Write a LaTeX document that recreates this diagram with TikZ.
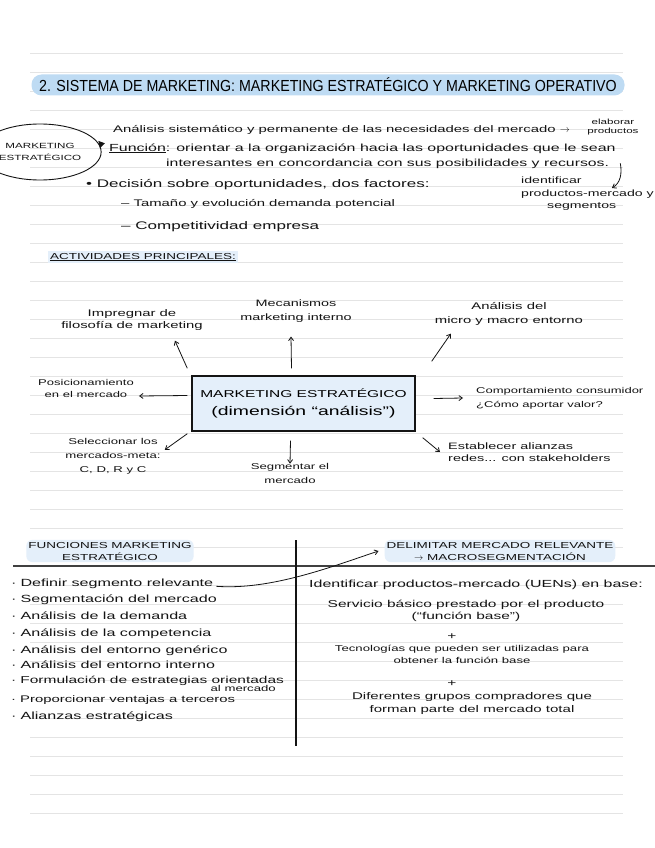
\documentclass[tikz,border=0pt]{standalone}
\usepackage{fontspec}
\setmainfont{Liberation Sans}
\newfontfamily\hand[FakeStretch=1.55]{Liberation Sans}
\newfontfamily\titlefont[FakeStretch=0.89]{Liberation Sans}
\usetikzlibrary{arrows.meta,positioning,calc,shapes.geometric}
\definecolor{hlblue}{RGB}{190,219,243}
\definecolor{hlsoft}{RGB}{228,239,250}
\definecolor{rulecolor}{RGB}{228,228,228}
\definecolor{ink}{RGB}{20,20,20}
\tikzset{
  hand/.style={font={\hand\fontsize{#1}{13}\selectfont}, text=ink, inner sep=1pt, align=center},
  hand/.default=10,
  caps/.style={font={\hand\fontsize{8.7}{12}\selectfont}, text=ink, inner sep=2pt, align=center},
  link/.style={-{Straight Barb[length=3.5pt,width=5pt]}, line width=0.8pt, ink},
  rule/.style={rulecolor, line width=0.7pt}
}

\begin{document}
\begin{tikzpicture}[x=1pt, y=-1pt]
  \useasboundingbox (0,0) rectangle (655,848);
  \fill[white] (0,0) rectangle (655,848);
  % ruled paper
  \foreach \k in {0,...,40} \draw[rule] (30,53+19*\k) -- (623,53+19*\k);

  % title
  \node[fill=hlblue, rounded corners=10pt, minimum width=593pt, minimum height=21pt,
        font={\titlefont\fontsize{16}{16}\selectfont}] (title) at (328,85)
        {2. SISTEMA DE MARKETING: MARKETING ESTRATÉGICO Y MARKETING OPERATIVO};

  % marketing estrategico
  \node[ellipse, draw=ink, line width=0.9pt, minimum width=100pt, minimum height=56pt,
        inner sep=0pt, caps, font={\hand\fontsize{7.5}{12}\selectfont}] (mkt) at (40,152)
        {MARKETING\\ESTRATÉGICO};
  \node[hand=9.6, anchor=base west] (ana) at (112,132)
        {Análisis sistemático y permanente de las necesidades del mercado $\rightarrow$};
  \node[hand, font={\hand\fontsize{7.5}{8.5}\selectfont}] (elab) at (613,127) {elaborar\\productos};
  \node[hand=10.3, anchor=base west] (fun) at (108,151)
        {\underline{Función}: orientar a la organización hacia las oportunidades que le sean};
  \node[hand=10.2, anchor=base west] (inter) at (165,166)
        {interesantes en concordancia con sus posibilidades y recursos.};
  \draw[-{Triangle[length=6pt,width=7pt]}, line width=2.2pt, ink]
        ([yshift=8pt]mkt.east) -- ([xshift=-3pt,yshift=5pt]fun.west);
  \node[hand, font={\hand\fontsize{9.1}{12.5}\selectfont}, align=left, anchor=north west] (ident) at (520,176)
        {identificar\\productos-mercado y\\\hspace*{26pt}segmentos};
  \draw[link] ([xshift=10pt,yshift=0pt]inter.east) to[out=-80,in=30]
        ([xshift=-43pt,yshift=-12pt]ident.north east);
  \node[hand=11, anchor=base west] (dec) at (85,187) {• Decisión sobre oportunidades, dos factores:};
  \node[hand=9.6, anchor=base west] (t1) at (120,206) {– Tamaño y evolución demanda potencial};
  \node[hand=11, anchor=base west] (t2) at (120,229) {– Competitividad empresa};

  % actividades principales
  \node[caps, fill=hlsoft, anchor=base west] (act) at (48,259) {\underline{ACTIVIDADES PRINCIPALES:}};
  \node[draw=ink, line width=1.4pt, fill=hlsoft, minimum width=223pt, minimum height=55pt,
        font=\hand, align=center] (core) at (303.5,403.5)
        {\fontsize{10}{13}\selectfont MARKETING ESTRATÉGICO\\[6pt]\fontsize{12.5}{13}\selectfont(dimensión “análisis”)};
  \node[hand, font={\hand\fontsize{9.6}{12}\selectfont}] (filo) at (132,320) {Impregnar de\\filosofía de marketing};
  \node[hand, font={\hand\fontsize{9.3}{14}\selectfont}] (meca) at (296,311) {Mecanismos\\marketing interno};
  \node[hand, font={\hand\fontsize{9.6}{14}\selectfont}] (micro) at (509,314) {Análisis del\\micro y macro entorno};
  \node[hand, font={\hand\fontsize{8.4}{12}\selectfont}] (posi) at (86,388) {Posicionamiento\\en el mercado};
  \node[hand, font={\hand\fontsize{8.4}{14}\selectfont}, align=left, anchor=west] (comp) at (475,398) {Comportamiento consumidor\\¿Cómo aportar valor?};
  \node[hand, font={\hand\fontsize{8.5}{14}\selectfont}] (selec) at (113,456) {Seleccionar los\\mercados-meta:\\C, D, R y C};
  \node[hand, font={\hand\fontsize{8.5}{14}\selectfont}] (segm) at (290,473) {Segmentar el\\mercado};
  \node[hand, font={\hand\fontsize{9.3}{12}\selectfont}, align=left, anchor=west] (alia) at (447,452) {Establecer alianzas\\redes... con stakeholders};
  \draw[link] ([xshift=-4pt,yshift=7pt]core.north west) -- ([xshift=-29pt,yshift=-9pt]filo.south east);
  \draw[link] ([xshift=-12pt,yshift=7pt]core.north) -- ([xshift=-5pt,yshift=-13pt]meca.south);
  \draw[link] ([xshift=16pt,yshift=14pt]core.north east) -- ([xshift=17pt,yshift=-7pt]micro.south west);
  \draw[link] ([xshift=-4pt,yshift=8pt]core.west) -- ([xshift=4pt,yshift=-8pt]posi.east);
  \draw[link] ([xshift=18pt,yshift=5pt]core.east) -- ([xshift=-12pt]comp.west);
  \draw[link] ([xshift=-4pt,yshift=-2pt]core.south west) -- ([xshift=3pt,yshift=-13pt]selec.north east);
  \draw[link] ([xshift=-13pt,yshift=-9pt]core.south) -- ([xshift=0pt,yshift=-2pt]segm.north);
  \draw[link] ([xshift=7pt,yshift=-6pt]core.south east) -- ([xshift=-7pt]alia.west);

  % funciones / delimitar
  \draw[line width=1.6pt, black!75] (13,566) -- (655,566);
  \draw[line width=1.1pt, ink] (296,540) -- (296,746);
  \node[caps, fill=hlsoft, rounded corners=6pt] (func) at (110,551) {FUNCIONES MARKETING\\ESTRATÉGICO};
  \node[caps, fill=hlsoft, rounded corners=6pt] (delim) at (500,551) {DELIMITAR MERCADO RELEVANTE\\$\rightarrow$ MACROSEGMENTACIÓN};
  \foreach \y/\s/\t [count=\i] in {586/10.4/Definir segmento relevante, 602/10.4/Segmentación del mercado,
      619/10.4/Análisis de la demanda, 636/10.4/Análisis de la competencia, 653/10.4/Análisis del entorno genérico,
      668/10.4/Análisis del entorno interno, 683/10/Formulación de estrategias orientadas,
      702/9.6/Proporcionar ventajas a terceros, 719/10.4/Alianzas estratégicas}
    \node[hand=\s, anchor=base west] (fn\i) at (10,\y) {·\hspace{4pt}\t};
  \node[hand=8.5, anchor=base east] (almer) at (277,691) {al mercado};
  \draw[link] ([xshift=2pt,yshift=-3pt]fn1.east) .. controls +(55,4) and +(-45,15) .. ([xshift=-6pt]delim.west);
  \node[hand=10.3, anchor=base west] (ub) at (308,587) {Identificar productos-mercado (UENs) en base:};
  \node[hand, font={\hand\fontsize{10}{12}\selectfont}] (sb) at (466,611) {Servicio básico prestado por el producto\\(“función base”)};
  \node[hand] (plus1) at (452,637) {+};
  \node[hand, font={\hand\fontsize{8.5}{12}\selectfont}] (tec) at (462,654) {Tecnologías que pueden ser utilizadas para\\obtener la función base};
  \node[hand] (plus2) at (452,684) {+};
  \node[hand, font={\hand\fontsize{9.7}{13}\selectfont}] (grp) at (472,703) {Diferentes grupos compradores que\\forman parte del mercado total};
\end{tikzpicture}
\end{document}
